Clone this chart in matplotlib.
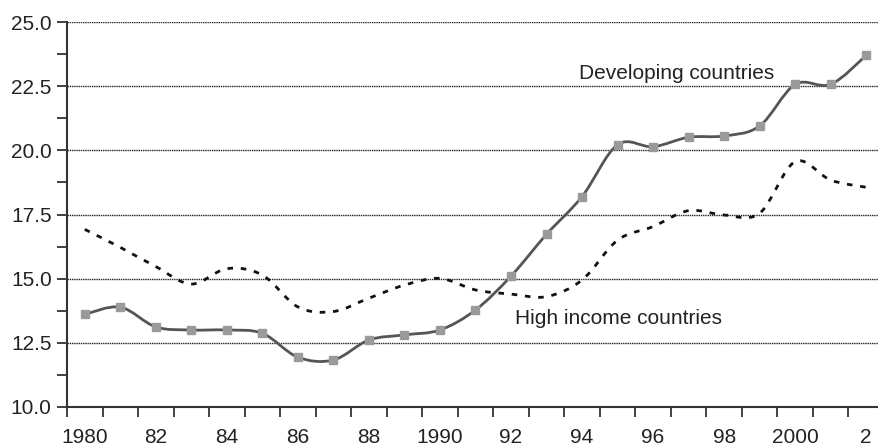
import matplotlib
matplotlib.use("Agg")
import matplotlib.pyplot as plt
from matplotlib.path import Path
from matplotlib.patches import PathPatch
import numpy as np

plt.rcParams['font.family'] = ['Liberation Sans', 'DejaVu Sans']

years = list(range(1980, 2003))
year_labels = ["1980", "82", "84", "86", "88", "1990", "92", "94", "96", "98", "2000", "2"]
developing = [13.61, 13.89, 13.12, 13.0, 13.0, 12.87, 11.94, 11.83, 12.61, 12.81, 13.0,
              13.78, 15.1, 16.73, 18.2, 20.22, 20.14, 20.51, 20.56, 20.95, 22.57, 22.57, 23.70]
high_income = [16.92, 16.22, 15.47, 14.79, 15.39, 15.14, 13.9, 13.72, 14.24, 14.75, 15.01,
               14.56, 14.40, 14.3, 14.95, 16.5, 17.03, 17.65, 17.48, 17.55, 19.56, 18.84, 18.56]


def smooth_path(xs, ys):
    """Excel-style smoothed line as cubic Bezier segments through the data points."""
    pts = np.column_stack([xs, ys]).astype(float)
    n = len(pts)
    verts = [pts[0]]
    codes = [Path.MOVETO]
    for i in range(n - 1):
        p0 = pts[i - 1] if i > 0 else pts[i]
        p1 = pts[i]
        p2 = pts[i + 1]
        p3 = pts[i + 2] if i + 2 < n else pts[i + 1]
        c1 = p1 + (p2 - p0) / 6.0
        c2 = p2 - (p3 - p1) / 6.0
        verts += [c1, c2, p2]
        codes += [Path.CURVE4] * 3
    return Path(verts, codes)


fig = plt.figure(figsize=(8.79, 4.48), dpi=100)
ax = fig.add_axes([67 / 879, 1 - 407 / 448, (884 - 67) / 879, (407 - 22) / 448])

x = np.arange(len(years))

ax.add_patch(PathPatch(smooth_path(x, high_income), facecolor='none', edgecolor='#111111',
                       lw=2.0, linestyle=(0, (2.0, 2.8)), zorder=3))
ax.add_patch(PathPatch(smooth_path(x, developing), facecolor='none', edgecolor='#555555',
                       lw=2.0, zorder=4))
ax.plot(x, developing, linestyle='none', marker='s', markersize=5.5,
        markerfacecolor='#9a9a9a', markeredgecolor='#9a9a9a', zorder=5)

ax.set_xlim(-0.5, len(years) - 0.5)
ax.set_ylim(10, 25)

# y axis
ax.set_yticks(np.arange(10, 25.01, 2.5))
ax.set_yticklabels([f"{v:.1f}" for v in np.arange(10, 25.01, 2.5)])
ax.set_yticks(np.arange(11.25, 25, 2.5), minor=True)
ax.yaxis.grid(True, which='major', linestyle=(0, (1.0, 0.6)), color='#222222', lw=1.0)

# x axis: ticks at category boundaries, labels at even years
ax.set_xticks(np.arange(-0.5, len(years), 1.0))
ax.set_xticklabels([])
ax.set_xticks(np.arange(0, len(years), 2), minor=True)
ax.set_xticklabels(year_labels, minor=True)

ax.tick_params(axis='x', which='major', direction='out', length=7, width=1.3, color='#333333')
ax.tick_params(axis='x', which='minor', length=0, labelsize=15, pad=15, labelcolor='#222222')
ax.tick_params(axis='y', which='both', direction='out', length=7, width=1.3, color='#333333',
               labelsize=15, labelcolor='#222222', pad=4)

for s in ['top', 'right']:
    ax.spines[s].set_visible(False)
for s in ['left', 'bottom']:
    ax.spines[s].set_linewidth(1.5)
    ax.spines[s].set_color('#333333')
ax.set_axisbelow(True)

ax.text(13.92, 23.0, "Developing countries", fontsize=15, color='#222222',
        va='center', ha='left')
ax.text(12.1, 13.45, "High income countries", fontsize=15, color='#222222',
        va='center', ha='left')

fig.savefig("out.png", dpi=100)
